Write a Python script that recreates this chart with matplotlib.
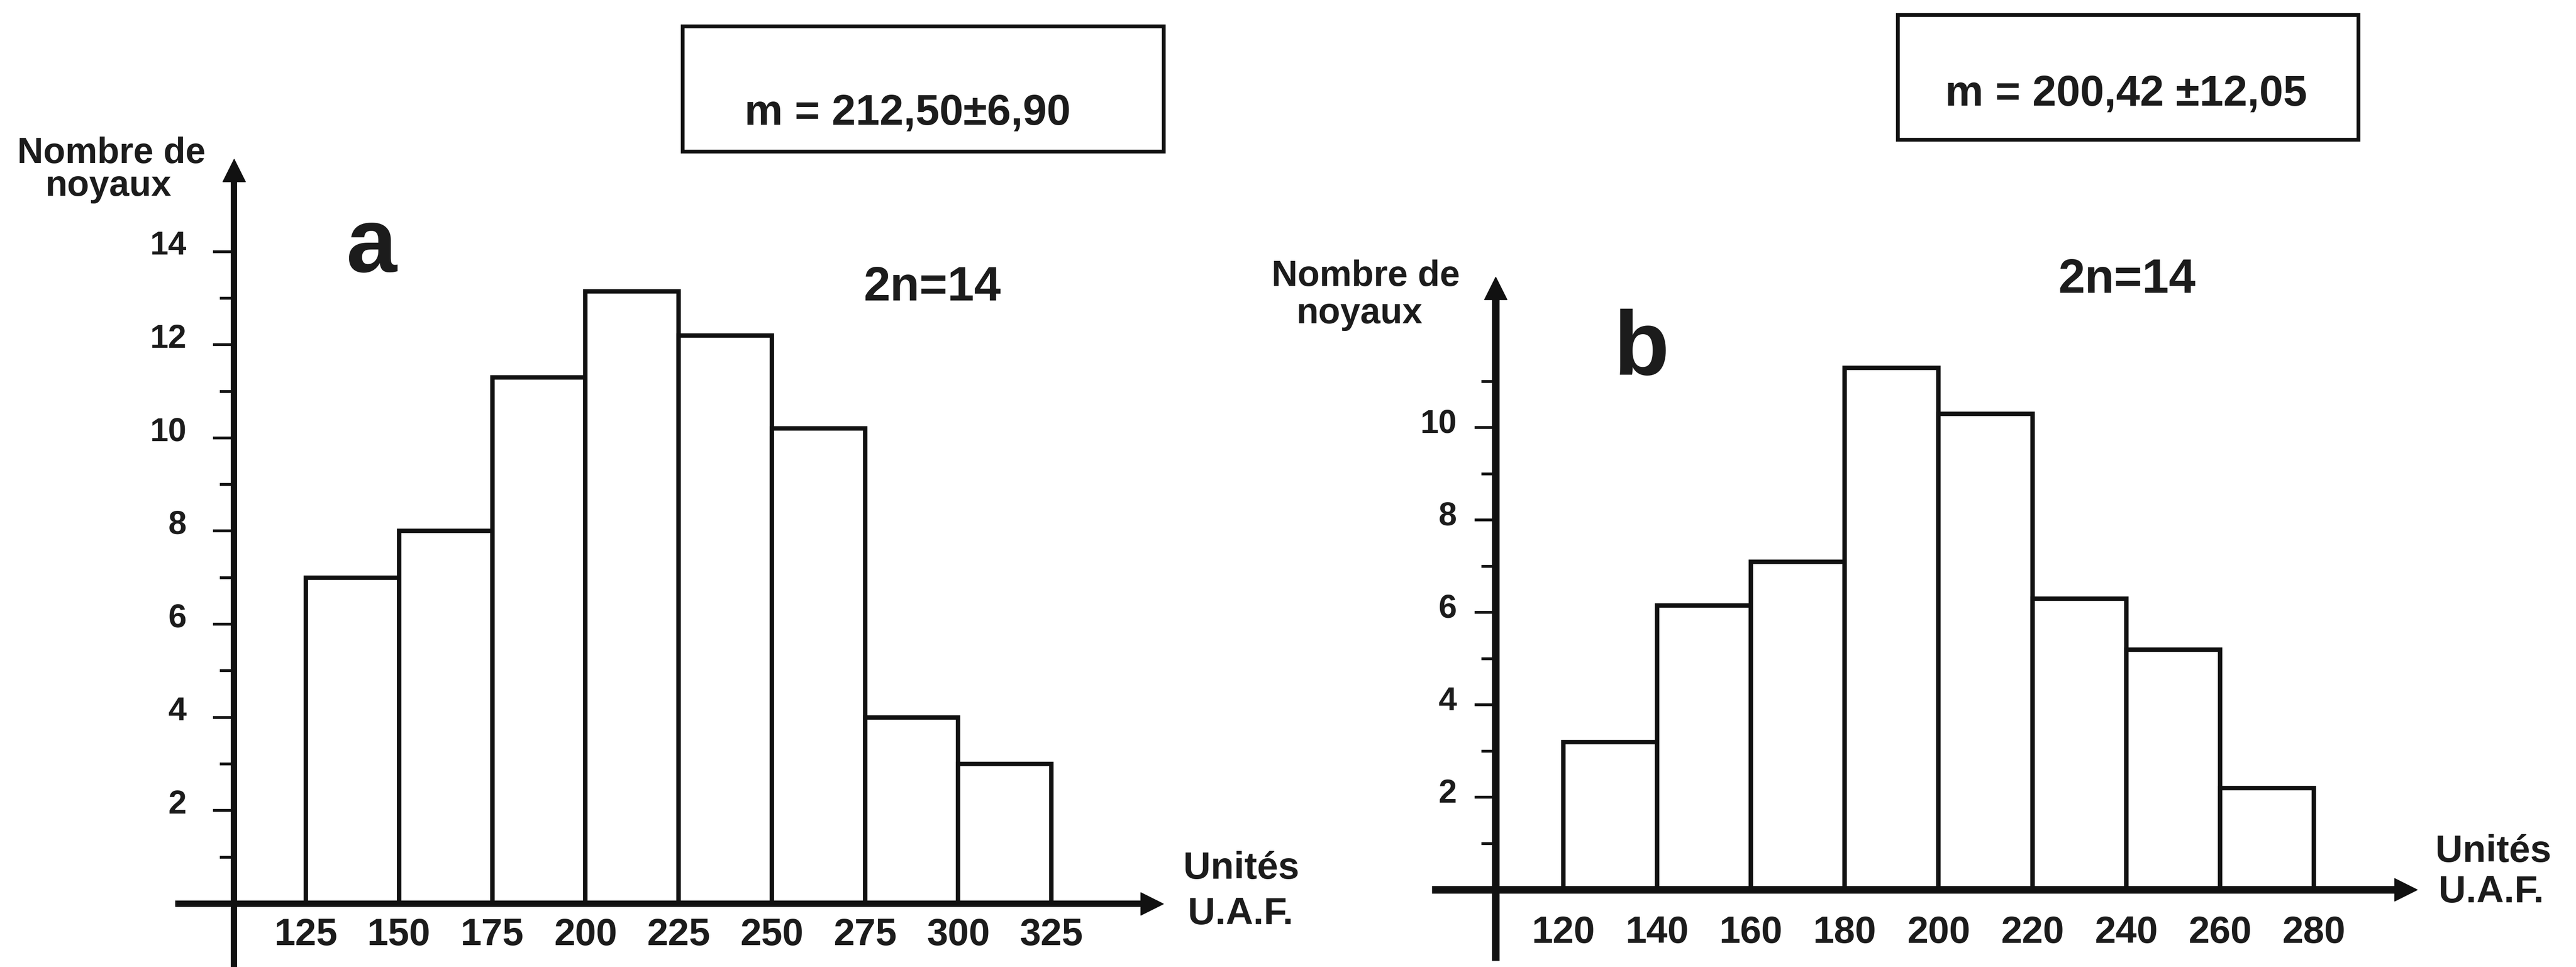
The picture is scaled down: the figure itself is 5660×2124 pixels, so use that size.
import matplotlib
matplotlib.use("Agg")
import matplotlib.pyplot as plt
import numpy as np
from matplotlib.patches import Rectangle
from matplotlib.transforms import ScaledTranslation
from matplotlib import font_manager

# ---------------- data ----------------
a_edges = [125, 150, 175, 200, 225, 250, 275, 300, 325]
a_counts = [7.0, 8.0, 11.3, 13.15, 12.2, 10.2, 4.0, 3.0]
a_yticks = [2, 4, 6, 8, 10, 12, 14]
a_yminor = [1, 3, 5, 7, 9, 11, 13]

b_edges = [120, 140, 160, 180, 200, 220, 240, 260, 280]
b_counts = [3.2, 6.15, 7.1, 11.3, 10.3, 6.3, 5.2, 2.2]
b_yticks = [2, 4, 6, 8, 10]
b_yminor = [1, 3, 5, 7, 9, 11]

a_mean = "m = 212,50±6,90"
b_mean = "m = 200,42 ±12,05"
ylabel_lines = ["Nombre de", "noyaux"]
xlabel_lines = ["Unités", "U.A.F."]
panel_letters = ["a", "b"]
chromo = "2n=14"

# ---------------- fonts ----------------
names = {f.name for f in font_manager.fontManager.ttflist}
BOLD = "Liberation Sans" if "Liberation Sans" in names else "DejaVu Sans"
NARROW = "Liberation Sans Narrow" if "Liberation Sans Narrow" in names else BOLD

W, H, DPI = 5660, 2124, 100
INK = "#111111"
TXT = "#1c1c1c"

fig = plt.figure(figsize=(W / DPI, H / DPI), dpi=DPI, facecolor="white")


def fx(x):
    return x / W


def fy(y):
    return 1 - y / H


def panel(rect, xlim, ylim, yaxis_x, ybottom, ytop, xright, edges, counts,
          majors, minors, axis_lw, ytick_pad, xtick_pad, ylab_shift):
    ax = fig.add_axes(rect)
    ax.set_xlim(xlim)
    ax.set_ylim(ylim)
    ax.patch.set_alpha(0)
    for s in ["top", "right"]:
        ax.spines[s].set_visible(False)
    ax.spines["left"].set_position(("data", yaxis_x))
    ax.spines["bottom"].set_position(("data", 0))
    ax.spines["left"].set_bounds(ybottom, ytop)
    ax.spines["bottom"].set_bounds(xlim[0], xright)
    for s in ["left", "bottom"]:
        ax.spines[s].set_linewidth(axis_lw)
        ax.spines[s].set_color(INK)
        ax.spines[s].set_capstyle("butt")

    ax.bar(edges[:-1], counts, width=np.diff(edges), align="edge",
           facecolor="white", edgecolor=INK, linewidth=7, zorder=1)

    ax.set_xticks(edges)
    ax.set_xticklabels([str(e) for e in edges])
    ax.tick_params(axis="x", length=0, pad=xtick_pad)
    for lab in ax.get_xticklabels():
        lab.set_fontfamily(NARROW)
        lab.set_fontweight("bold")
        lab.set_fontsize(60)
        lab.set_color(TXT)

    ax.set_yticks(majors)
    ax.set_yticklabels([str(v) for v in majors])
    ax.set_yticks(minors, minor=True)
    ax.tick_params(axis="y", which="major", length=33, width=4.5,
                   direction="out", pad=ytick_pad, color=INK)
    ax.tick_params(axis="y", which="minor", length=22, width=4.5,
                   direction="out", color=INK)
    off = ScaledTranslation(0, ylab_shift / DPI, fig.dpi_scale_trans)
    for lab in ax.get_yticklabels():
        lab.set_fontfamily(BOLD)
        lab.set_fontweight("bold")
        lab.set_fontsize(52)
        lab.set_color(TXT)
        lab.set_transform(lab.get_transform() + off)

    ax.plot([yaxis_x], [ytop], marker="^", ms=36, color=INK, clip_on=False, zorder=5)
    ax.plot([xright], [0], marker=">", ms=36, color=INK, clip_on=False, zorder=5)
    return ax


# ---- left panel (a) ----
# x: 125 -> 672px, 8.19 px/unit ; y: 0 -> 1985px, 102.3 px/unit
axl_x0, axl_x1 = 90, 355
axl_y0, axl_y1 = -1.36, 16.0
rect_l = [fx(672 - (125 - axl_x0) * 8.19), 0.0,
          (axl_x1 - axl_x0) * 8.19 / W, (axl_y1 - axl_y0) * 102.3 / H]
panel(rect_l, (axl_x0, axl_x1), (axl_y0, axl_y1), 105.7, axl_y0, 15.75, 352.0,
      a_edges, a_counts, a_yticks, a_yminor, 10, 42, 22, 20)

# ---- right panel (b) ----
# x: 120 -> 3435px, 10.306 px/unit ; y: 0 -> 1955px, 101.5 px/unit
axr_x0, axr_x1 = 92, 302
axr_y0, axr_y1 = -1.67, 13.27
rect_r = [fx(3435 - (120 - axr_x0) * 10.306), 0.0,
          (axr_x1 - axr_x0) * 10.306 / W, (axr_y1 - axr_y0) * 101.5 / H]
panel(rect_r, (axr_x0, axr_x1), (axr_y0, axr_y1), 105.5, -1.53, 13.02, 299.6,
      b_edges, b_counts, b_yticks, b_yminor, 12, 28, 40, 15)

# ---------------- annotations ----------------
def txt(x, y, s, size, ha="left", family=None):
    fig.text(fx(x), fy(y), s, fontsize=size, fontweight="bold",
             fontfamily=family or BOLD, color=TXT, ha=ha, va="baseline")


# y-axis titles
txt(245, 358, ylabel_lines[0], 57, ha="center")
txt(238, 430, ylabel_lines[1], 57, ha="center")
txt(3001, 628, ylabel_lines[0], 57, ha="center")
txt(2987, 710, ylabel_lines[1], 57, ha="center")

# x-axis titles
txt(2600, 1930, xlabel_lines[0], 60)
txt(2610, 2030, xlabel_lines[1], 60)
txt(5351, 1893, xlabel_lines[0], 60)
txt(5358, 1982, xlabel_lines[1], 60)

# panel letters
txt(760, 597, panel_letters[0], 144)
txt(3546, 823, panel_letters[1], 144)

# chromosome number
txt(1897, 660, chromo, 76)
txt(4522, 643, chromo, 76)

# mean boxes
for (x0, y0, x1, y1), s, (tx, ty) in [((1500, 58, 2557, 333), a_mean, (1636, 273)),
                                       ((4170, 33, 5182, 307), b_mean, (4274, 232))]:
    fig.add_artist(Rectangle((fx(x0), fy(y1)), (x1 - x0) / W, (y1 - y0) / H,
                             transform=fig.transFigure, fill=False,
                             edgecolor=INK, linewidth=6))
    txt(tx, ty, s, 68)

fig.savefig("out.png", dpi=DPI, facecolor="white")
